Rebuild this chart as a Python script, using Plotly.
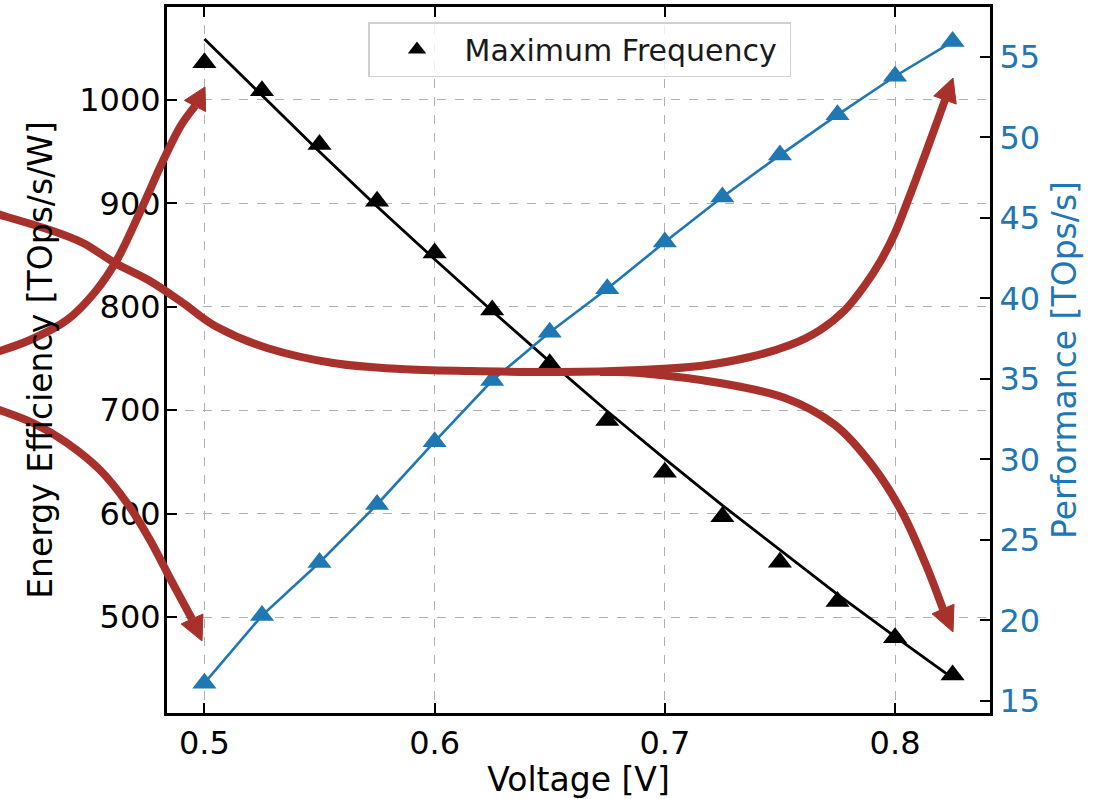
import plotly.graph_objects as go

# ---------------- data ----------------
voltage = [0.5, 0.525, 0.55, 0.575, 0.6, 0.625, 0.65, 0.675, 0.7, 0.725, 0.75, 0.775, 0.8, 0.825]
efficiency = [1036, 1009, 957, 902, 852, 797, 745, 690, 640, 597, 553, 515, 480, 444]
efficiency_fit = [1059, 1004, 950, 897, 846, 796, 747, 699, 653, 608, 565, 522, 481, 441]
performance = [16.1, 20.3, 23.6, 27.2, 31.1, 34.9, 37.9, 40.6, 43.5, 46.3, 48.9, 51.4, 53.8, 55.95]

x_ticks = [0.5, 0.6, 0.7, 0.8]
x_tick_text = ["0.5", "0.6", "0.7", "0.8"]
eff_ticks = [500, 600, 700, 800, 900, 1000]
perf_ticks = [15, 20, 25, 30, 35, 40, 45, 50, 55]

legend_name = "Maximum Frequency"
x_title = "Voltage [V]"
y_title = "Energy Efficiency [TOps/s/W]"
y2_title = "Performance [TOps/s]"

# ---------------- styling ----------------
W_FIG, H_FIG = 1096, 799
M_L, M_R, M_T, M_B = 167, 106, 7, 86
PW = W_FIG - M_L - M_R
PH = H_FIG - M_T - M_B
BLUE = "#1f77b4"
RED = "#a8322b"
FONT = "DejaVu Sans"

fig = go.Figure()

fig.add_trace(go.Scatter(
    x=voltage, y=efficiency_fit, mode="lines",
    line=dict(color="black", width=2.8), showlegend=False, hoverinfo="skip"))
fig.add_trace(go.Scatter(
    x=voltage, y=efficiency, mode="markers", name=legend_name,
    marker=dict(symbol="triangle-up", size=21, color="black")))
fig.add_trace(go.Scatter(
    x=voltage, y=performance, mode="lines+markers", yaxis="y2",
    line=dict(color=BLUE, width=2.6),
    marker=dict(symbol="triangle-up", size=21, color=BLUE), showlegend=False))

# ---------------- decorative red arrows (pixel space -> paper) ----------------
def to_paper(p):
    return ((p[0] - M_L) / PW, (M_T + PH - p[1]) / PH)


def smooth_path(pts):
    P = [to_paper(p) for p in pts]
    d = "M%.5f,%.5f" % P[0]
    for i in range(len(P) - 1):
        p0 = P[i - 1] if i > 0 else P[i]
        p1 = P[i]
        p2 = P[i + 1]
        p3 = P[i + 2] if i + 2 < len(P) else P[i + 1]
        c1 = (p1[0] + (p2[0] - p0[0]) / 6, p1[1] + (p2[1] - p0[1]) / 6)
        c2 = (p2[0] - (p3[0] - p1[0]) / 6, p2[1] - (p3[1] - p1[1]) / 6)
        d += " C%.5f,%.5f %.5f,%.5f %.5f,%.5f" % (c1[0], c1[1], c2[0], c2[1], p2[0], p2[1])
    return d


def head_path(base, tip, half=12):
    dx, dy = tip[0] - base[0], tip[1] - base[1]
    n = (dx * dx + dy * dy) ** 0.5
    nx, ny = -dy / n * half, dx / n * half
    a = to_paper((base[0] + nx, base[1] + ny))
    b = to_paper((base[0] - nx, base[1] - ny))
    t = to_paper(tip)
    return "M%.5f,%.5f L%.5f,%.5f L%.5f,%.5f Z" % (t[0], t[1], a[0], a[1], b[0], b[1])


arrows = [
    # (shaft points, tip)
    ([(-6, 353), (30, 340), (67, 320), (95, 292), (118, 258), (140, 212), (162, 163), (180, 127),
      (195, 106)], (205, 87)),
    ([(-6, 408), (33, 423), (67, 443), (100, 470), (127, 503), (150, 540), (172, 582), (192, 619)],
     (202, 641)),
    ([(-6, 213), (50, 230), (83, 243), (115, 263), (150, 281), (183, 303), (217, 327), (267, 348),
      (333, 363), (400, 369), (470, 371), (560, 372), (640, 370), (700, 366), (750, 357), (790, 345),
      (820, 330), (845, 310), (865, 285), (880, 262), (895, 233), (910, 195), (925, 155),
      (945, 100)], (953, 78)),
    ([(600, 372), (640, 373), (720, 383), (785, 398), (835, 425), (872, 465), (902, 512), (926, 565),
      (943, 609)], (953, 632)),
]

shapes = []
for pts, tip in arrows:
    shapes.append(dict(type="path", xref="paper", yref="paper", path=smooth_path(pts),
                       line=dict(color=RED, width=8), layer="above"))
    shapes.append(dict(type="path", xref="paper", yref="paper", path=head_path(pts[-1], tip),
                       line=dict(color=RED, width=1), fillcolor=RED, layer="above"))

axis_common = dict(
    showline=True, linecolor="black", linewidth=3,
    ticks="inside", ticklen=10, tickwidth=2, tickcolor="black",
    tickfont=dict(family=FONT, size=32, color="black"),
    zeroline=False, automargin=False,
)

fig.update_layout(
    width=W_FIG, height=H_FIG,
    margin=dict(l=M_L, r=M_R, t=M_T, b=M_B, pad=0),
    paper_bgcolor="white", plot_bgcolor="white",
    font=dict(family=FONT, color="black"),
    xaxis=dict(
        **axis_common, mirror="ticks",
        range=[0.48375, 0.84125], tickvals=x_ticks, ticktext=x_tick_text,
        showgrid=True, gridcolor="#b0b0b0", griddash="dash", gridwidth=1.2,
        ticklabelstandoff=0,
        title=dict(text=x_title, font=dict(family=FONT, size=33, color="black"), standoff=14),
    ),
    yaxis=dict(
        **axis_common, mirror=True,
        range=[407.2, 1089.9], tickvals=eff_ticks,
        showgrid=True, gridcolor="#b0b0b0", griddash="dash", gridwidth=1.2,
        ticklabelstandoff=-3,
        title=dict(text=y_title, font=dict(family=FONT, size=33, color="black"), standoff=17),
    ),
    yaxis2=dict(
        showline=True, linecolor="black", linewidth=3,
        ticks="inside", ticklen=10, tickwidth=2, tickcolor="black",
        tickfont=dict(family=FONT, size=32, color=BLUE),
        overlaying="y", side="right", range=[14.25, 58.1], tickvals=perf_ticks,
        showgrid=False, zeroline=False, automargin=False, ticklabelstandoff=0,
        title=dict(text=y2_title, font=dict(family=FONT, size=33, color=BLUE), standoff=14),
    ),
    legend=dict(
        x=(368 - M_L) / PW, y=(M_T + PH - 22) / PH, xanchor="left", yanchor="top",
        orientation="h", entrywidth=320,
        bgcolor="rgba(255,255,255,0.8)", bordercolor="#d0d0d0", borderwidth=1.5,
        font=dict(family=FONT, size=30, color="#1a1a1a"), itemwidth=85,
    ),
    shapes=shapes,
)

fig.write_html("out.html", config={"displayModeBar": False},
               post_script="document.body.style.margin='0px';")
